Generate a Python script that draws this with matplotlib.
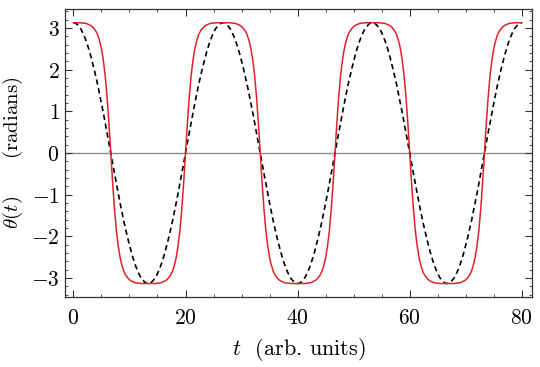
import numpy as np
import matplotlib
matplotlib.use("Agg")
import matplotlib.pyplot as plt
from matplotlib.ticker import MultipleLocator

# time grid: 80 samples per oscillation period, 3 periods over 0..80
t = np.linspace(0, 80, 241)

# red curve: full (nonlinear) pendulum
theta_full = [
    3.13, 3.13, 3.13, 3.13, 3.13, 3.12, 3.12, 3.11, 3.09, 3.07, 3.04, 2.99, 2.93, 2.84, 2.70, 2.51, 2.23, 1.86, 1.35, 0.72,
    0.00, -0.72, -1.35, -1.86, -2.23, -2.51, -2.70, -2.84, -2.93, -2.99, -3.04, -3.07, -3.09, -3.11, -3.12, -3.12, -3.13, -3.13, -3.13, -3.13,
    -3.13, -3.13, -3.13, -3.13, -3.13, -3.12, -3.12, -3.11, -3.09, -3.07, -3.04, -2.99, -2.93, -2.84, -2.70, -2.51, -2.23, -1.86, -1.35, -0.72,
    0.00, 0.72, 1.35, 1.86, 2.23, 2.51, 2.70, 2.84, 2.93, 2.99, 3.04, 3.07, 3.09, 3.11, 3.12, 3.12, 3.13, 3.13, 3.13, 3.13,
    3.13, 3.13, 3.13, 3.13, 3.13, 3.12, 3.12, 3.11, 3.09, 3.07, 3.04, 2.99, 2.93, 2.84, 2.70, 2.51, 2.23, 1.86, 1.35, 0.72,
    0.00, -0.72, -1.35, -1.86, -2.23, -2.51, -2.70, -2.84, -2.93, -2.99, -3.04, -3.07, -3.09, -3.11, -3.12, -3.12, -3.13, -3.13, -3.13, -3.13,
    -3.13, -3.13, -3.13, -3.13, -3.13, -3.12, -3.12, -3.11, -3.09, -3.07, -3.04, -2.99, -2.93, -2.84, -2.70, -2.51, -2.23, -1.86, -1.35, -0.72,
    0.00, 0.72, 1.35, 1.86, 2.23, 2.51, 2.70, 2.84, 2.93, 2.99, 3.04, 3.07, 3.09, 3.11, 3.12, 3.12, 3.13, 3.13, 3.13, 3.13,
    3.13, 3.13, 3.13, 3.13, 3.13, 3.12, 3.12, 3.11, 3.09, 3.07, 3.04, 2.99, 2.93, 2.84, 2.70, 2.51, 2.23, 1.86, 1.35, 0.72,
    0.00, -0.72, -1.35, -1.86, -2.23, -2.51, -2.70, -2.84, -2.93, -2.99, -3.04, -3.07, -3.09, -3.11, -3.12, -3.12, -3.13, -3.13, -3.13, -3.13,
    -3.13, -3.13, -3.13, -3.13, -3.13, -3.12, -3.12, -3.11, -3.09, -3.07, -3.04, -2.99, -2.93, -2.84, -2.70, -2.51, -2.23, -1.86, -1.35, -0.72,
    0.00, 0.72, 1.35, 1.86, 2.23, 2.51, 2.70, 2.84, 2.93, 2.99, 3.04, 3.07, 3.09, 3.11, 3.12, 3.12, 3.13, 3.13, 3.13, 3.13,
    3.13,
]

# black dashed curve: small-angle (harmonic) version with the same period
theta_small = [
    3.13, 3.12, 3.09, 3.04, 2.98, 2.89, 2.79, 2.67, 2.53, 2.38, 2.21, 2.03, 1.84, 1.64, 1.42, 1.20, 0.97, 0.73, 0.49, 0.25,
    0.00, -0.25, -0.49, -0.73, -0.97, -1.20, -1.42, -1.64, -1.84, -2.03, -2.21, -2.38, -2.53, -2.67, -2.79, -2.89, -2.98, -3.04, -3.09, -3.12,
    -3.13, -3.12, -3.09, -3.04, -2.98, -2.89, -2.79, -2.67, -2.53, -2.38, -2.21, -2.03, -1.84, -1.64, -1.42, -1.20, -0.97, -0.73, -0.49, -0.25,
    0.00, 0.25, 0.49, 0.73, 0.97, 1.20, 1.42, 1.64, 1.84, 2.03, 2.21, 2.38, 2.53, 2.67, 2.79, 2.89, 2.98, 3.04, 3.09, 3.12,
    3.13, 3.12, 3.09, 3.04, 2.98, 2.89, 2.79, 2.67, 2.53, 2.38, 2.21, 2.03, 1.84, 1.64, 1.42, 1.20, 0.97, 0.73, 0.49, 0.25,
    0.00, -0.25, -0.49, -0.73, -0.97, -1.20, -1.42, -1.64, -1.84, -2.03, -2.21, -2.38, -2.53, -2.67, -2.79, -2.89, -2.98, -3.04, -3.09, -3.12,
    -3.13, -3.12, -3.09, -3.04, -2.98, -2.89, -2.79, -2.67, -2.53, -2.38, -2.21, -2.03, -1.84, -1.64, -1.42, -1.20, -0.97, -0.73, -0.49, -0.25,
    0.00, 0.25, 0.49, 0.73, 0.97, 1.20, 1.42, 1.64, 1.84, 2.03, 2.21, 2.38, 2.53, 2.67, 2.79, 2.89, 2.98, 3.04, 3.09, 3.12,
    3.13, 3.12, 3.09, 3.04, 2.98, 2.89, 2.79, 2.67, 2.53, 2.38, 2.21, 2.03, 1.84, 1.64, 1.42, 1.20, 0.97, 0.73, 0.49, 0.25,
    0.00, -0.25, -0.49, -0.73, -0.97, -1.20, -1.42, -1.64, -1.84, -2.03, -2.21, -2.38, -2.53, -2.67, -2.79, -2.89, -2.98, -3.04, -3.09, -3.12,
    -3.13, -3.12, -3.09, -3.04, -2.98, -2.89, -2.79, -2.67, -2.53, -2.38, -2.21, -2.03, -1.84, -1.64, -1.42, -1.20, -0.97, -0.73, -0.49, -0.25,
    0.00, 0.25, 0.49, 0.73, 0.97, 1.20, 1.42, 1.64, 1.84, 2.03, 2.21, 2.38, 2.53, 2.67, 2.79, 2.89, 2.98, 3.04, 3.09, 3.12,
    3.13,
]

xticks = [0, 20, 40, 60, 80]
yticks = [-3, -2, -1, 0, 1, 2, 3]

plt.rcParams["mathtext.fontset"] = "cm"
plt.rcParams["font.family"] = "serif"
plt.rcParams["font.serif"] = ["cmr10"]
plt.rcParams["axes.formatter.use_mathtext"] = True

fig = plt.figure(figsize=(5.4, 3.67), dpi=100)
ax = fig.add_axes([0.1204, 0.190, 0.8646, 0.7855])

ax.axhline(0, color="#8c8c8c", lw=1.0, zorder=1)
ax.plot(t, theta_small, color="black", lw=1.2, ls=(0, (3.2, 2.2)), zorder=2)
ax.plot(t, theta_full, color="#e0232b", lw=1.1, zorder=3)

ax.set_xlim(-1.5, 81.8)
ax.set_ylim(-3.46, 3.46)
ax.set_xticks(xticks)
ax.set_yticks(yticks)
ax.xaxis.set_minor_locator(MultipleLocator(5))
ax.yaxis.set_minor_locator(MultipleLocator(0.2))
ax.tick_params(which="both", direction="in", top=True, right=True, labelsize=15.5, color="#333333")
ax.tick_params(which="major", length=5, width=0.8)
ax.tick_params(which="minor", length=2.5, width=0.6)
ax.tick_params(axis="x", which="major", pad=8)
ax.tick_params(axis="y", which="major", pad=4)
for s in ax.spines.values():
    s.set_color("#333333")
    s.set_linewidth(0.9)

ax.set_xlabel(r"$t$  (arb. units)", fontsize=16, labelpad=6)
ax.set_ylabel(r"$\theta(t)\qquad$(radians)", fontsize=15, labelpad=4)

fig.savefig("out.png", dpi=100)
